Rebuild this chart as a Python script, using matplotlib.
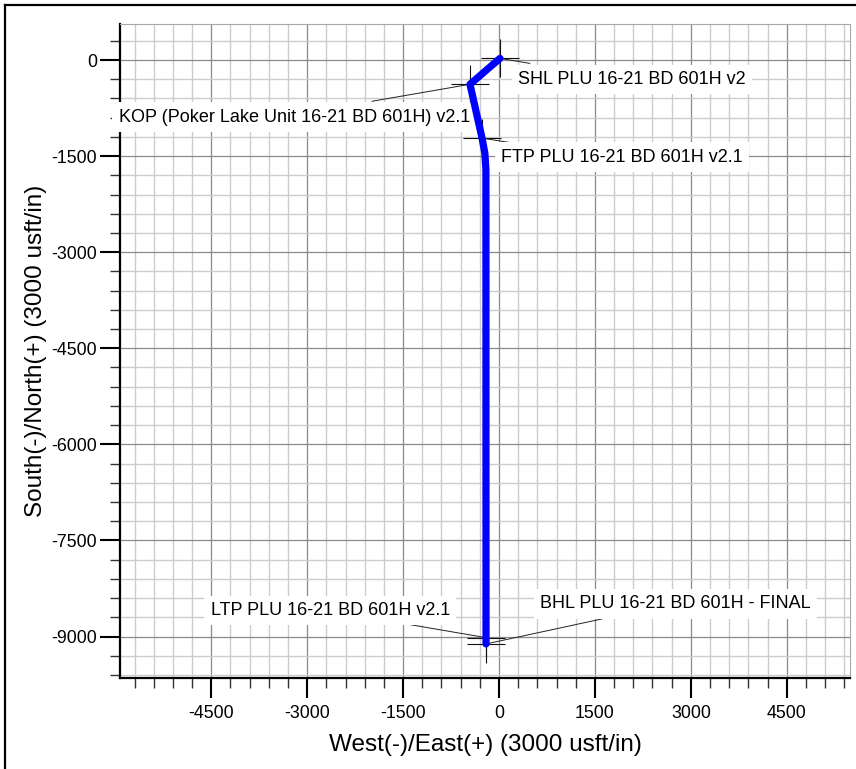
import matplotlib
matplotlib.use("Agg")
import matplotlib.pyplot as plt
from matplotlib.lines import Line2D
from matplotlib.ticker import MultipleLocator

plt.rcParams["font.family"] = ["Liberation Sans", "DejaVu Sans"]
plt.rcParams["axes.unicode_minus"] = False

# trajectory (usft), read from the plan view
traj_east = [15, -454, -265, -222, -205, -203]
traj_north = [25, -379, -1220, -1450, -1700, -9115]

# targets / annotated points
pt_names = [
    "SHL PLU 16-21 BD 601H v2",
    "KOP (Poker Lake Unit 16-21 BD 601H) v2.1",
    "FTP PLU 16-21 BD 601H v2.1",
    "LTP PLU 16-21 BD 601H v2.1",
    "BHL PLU 16-21 BD 601H - FINAL",
]
pt_east = [15, -454, -265, -203, -203]
pt_north = [25, -379, -1220, -9017, -9115]

# label placement in pixels: (text dx, text dy, align, leader dx, leader dy)
label_pos = [
    (18, -21, "left", 30, -5),
    (0, -33, "right", -98, -17),
    (19, -19, "left", 32, -5),
    (-36, 27, "right", -76, 13),
    (54, 40, "left", 116, 25),
]

X_LIM = (-5928, 5490)
Y_LIM = (-9647, 562)
X_TICKS = [-4500, -3000, -1500, 0, 1500, 3000, 4500]
Y_TICKS = [-9000, -7500, -6000, -4500, -3000, -1500, 0]

fig = plt.figure(figsize=(8.56, 7.69), dpi=100)
ax = fig.add_axes([120 / 856, 1 - 678 / 769, 730 / 856, 654 / 769])

ax.set_xlim(*X_LIM)
ax.set_ylim(*Y_LIM)
ax.set_xticks(X_TICKS)
ax.set_yticks(Y_TICKS)
ax.xaxis.set_minor_locator(MultipleLocator(300))
ax.yaxis.set_minor_locator(MultipleLocator(300))

ax.grid(which="minor", color="#cccccc", lw=1.0, zorder=0)
ax.grid(which="major", color="#8a8a8a", lw=0.9, zorder=0)
ax.set_axisbelow(True)

ax.tick_params(which="major", length=14.4, width=1.5, color="black",
               labelsize=12.8)
ax.tick_params(axis="x", which="major", pad=5)
ax.tick_params(axis="y", which="major", pad=2)
ax.tick_params(which="minor", length=7.2, width=1.0, color="#333333")
for side in ("left", "bottom"):
    ax.spines[side].set_linewidth(1.6)
    ax.spines[side].set_color("black")
for side in ("top", "right"):
    ax.spines[side].set_linewidth(0.8)
    ax.spines[side].set_color("#a8a8a8")

ax.plot(pt_east, pt_north, ls="none", marker="+", markersize=27,
        markeredgewidth=0.8, color="#111111", zorder=2.6)
ax.plot(traj_east, traj_north, color="#0000ff", lw=5.2,
        solid_capstyle="round", solid_joinstyle="round", zorder=6)

for name, e, n, (tdx, tdy, ha, ldx, ldy) in zip(pt_names, pt_east, pt_north, label_pos):
    ax.annotate("", xy=(e, n), xytext=(ldx, ldy), textcoords="offset pixels",
                arrowprops=dict(arrowstyle="-", color="#222222", lw=0.7,
                                shrinkA=0, shrinkB=0), zorder=2.7)
    ax.annotate(name, xy=(e, n), xytext=(tdx, tdy), textcoords="offset pixels",
                ha=ha, va="center", fontsize=13, zorder=5,
                bbox=dict(boxstyle="square,pad=0.35", fc="white", ec="none"))

ax.set_xlabel("West(-)/East(+) (3000 usft/in)", fontsize=17.5, labelpad=9)
ax.set_ylabel("South(-)/North(+) (3000 usft/in)", fontsize=17.5, labelpad=3)

# frame of the sheet (only left and top edges are in view)
fig.add_artist(Line2D([5 / 856, 5 / 856], [0, 1 - 5 / 769], color="black", lw=1.6))
fig.add_artist(Line2D([5 / 856, 1], [1 - 5 / 769, 1 - 5 / 769], color="black", lw=1.6))

plt.savefig("out.png", dpi=100)
